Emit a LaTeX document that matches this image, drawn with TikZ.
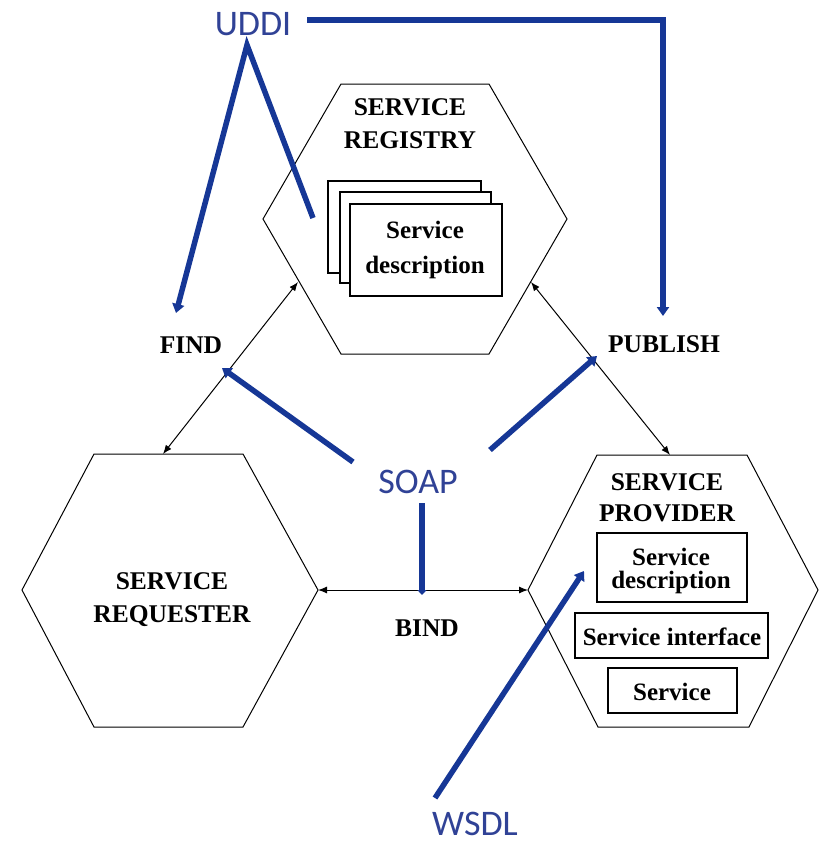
\documentclass[tikz,border=0pt]{standalone}
\usepackage{fontspec}
\setmainfont{Liberation Serif}
\newfontfamily\labelfont{Carlito}
\usetikzlibrary{arrows.meta}
\definecolor{wsblue}{RGB}{22,55,150}
\definecolor{wstext}{RGB}{48,66,150}

\begin{document}
\begin{tikzpicture}[x=1pt,y=-1pt,
  hexa/.style={draw=black,line width=1pt,line join=miter},
  card/.style={draw=black,line width=1.3pt,fill=white},
  role/.style={font=\bfseries\fontsize{25.5}{33}\selectfont,align=center,inner sep=0pt},
  boxtext/.style={font=\bfseries\fontsize{25}{35}\selectfont,align=center,inner sep=0pt},
  oplabel/.style={font=\bfseries\fontsize{25.5}{28}\selectfont,inner sep=0pt},
  stdlabel/.style={font=\labelfont\fontsize{36}{40}\selectfont,text=wstext,inner sep=0pt},
  msg/.style={draw=black,line width=1pt,{Latex[length=9pt,width=7pt]}-{Latex[length=9pt,width=7pt]}},
  link/.style={draw=wsblue,line width=5.5pt,line join=miter},
  linktip/.style={link,-{Triangle[length=9pt,width=12pt]}}
]
\useasboundingbox (0,0) rectangle (825,846);

% the three roles
\draw[hexa] (341,84) -- (489,84) -- (567,219) -- (489,354) -- (341,354) -- (263,219) -- cycle;
\draw[hexa] (94,454) -- (243,454) -- (318,590) -- (243,727) -- (94,727) -- (22,590) -- cycle;
\draw[hexa] (597,455) -- (747,455) -- (818,590) -- (749,727) -- (598,727) -- (528,590) -- cycle;

\node[role] (registry) at (410,124) {SERVICE\\REGISTRY};
\node[role] (requester) at (172,600) {SERVICE\\REQUESTER};
\node[role,font=\bfseries\fontsize{25.5}{31}\selectfont] (provider) at (667,498) {SERVICE\\PROVIDER};

% stacked descriptions held by the registry
\draw[card] (328,181) rectangle (481,273);
\draw[card] (340,192) rectangle (491,283);
\draw[card] (350,204) rectangle (502,296);
\node[boxtext] (regdesc) at (425,250) {Service\\description};

% provider contents
\draw[card] (597,533) rectangle (747,602);
\node[boxtext,font=\bfseries\fontsize{25}{23}\selectfont] (provdesc) at (671,571) {Service\\description};
\draw[card] (575,613) rectangle (768,658);
\node[boxtext] (provif) at (672,637) {Service interface};
\draw[card] (608,668) rectangle (737,713);
\node[boxtext] (provsvc) at (672,692) {Service};

% operation labels
\node[oplabel] (find) at (191,345) {FIND};
\node[oplabel] (publish) at (664,344) {PUBLISH};
\node[oplabel] (bind) at (427,628) {BIND};

% connector end points on the hexagon edges
\coordinate (regL) at (298,282);
\coordinate (regR) at (531,282);
\coordinate (reqT) at (163,454);
\coordinate (reqR) at (318,590);
\coordinate (provT) at (670,455);
\coordinate (provL) at (528,590);

\draw[msg] (regL) -- (reqT);
\draw[msg] (regR) -- (provT);
\draw[msg] (reqR) -- (provL);

% standards
\node[stdlabel] (uddi) at (253,24) {UDDI};
\node[stdlabel] (soap) at (418,482) {SOAP};
\node[stdlabel] (wsdl) at (475,824) {WSDL};

\coordinate (uddiR) at (307,20);
\coordinate (uddiTop) at (247,45);
\coordinate (uddiReg) at (313,218);
\coordinate (findTip) at (176,313);
\coordinate (publishTip) at (663,316);
\coordinate (soapFind) at (353,462);
\coordinate (findSoap) at (222,368);
\coordinate (soapPub) at (490,450);
\coordinate (pubSoap) at (597,356);
\coordinate (soapDown) at (422,503);
\coordinate (bindSoap) at (422,595);
\coordinate (wsdlUp) at (435,798);
\coordinate (provWsdl) at (584,571);

\draw[linktip] (uddiR) -| (publishTip);
\draw[linktip] (uddiReg) -- (uddiTop) -- (findTip);
\draw[linktip] (soapFind) -- (findSoap);
\draw[linktip] (soapPub) -- (pubSoap);
\draw[link,-{Triangle[length=5pt,width=9pt]}] (soapDown) -- (bindSoap);
\draw[linktip] (wsdlUp) -- (provWsdl);
\end{tikzpicture}
\end{document}
